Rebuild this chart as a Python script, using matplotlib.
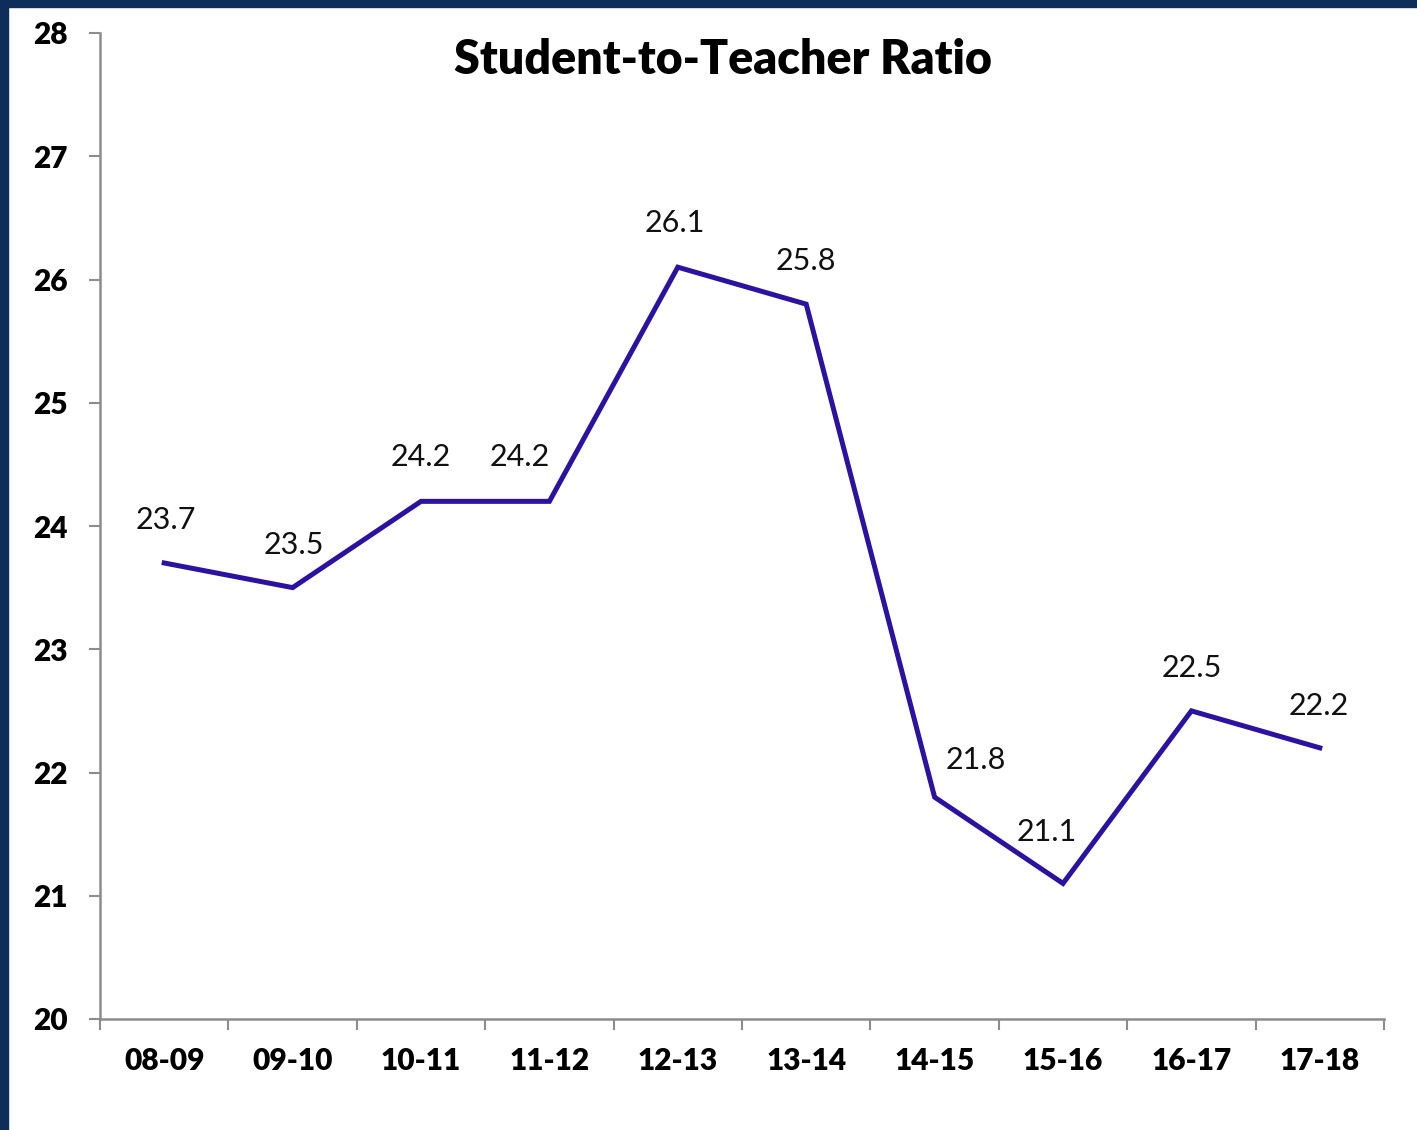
import matplotlib
matplotlib.use("Agg")
import matplotlib.pyplot as plt
from matplotlib.patches import Rectangle

years = ["08-09", "09-10", "10-11", "11-12", "12-13", "13-14", "14-15", "15-16", "16-17", "17-18"]
ratios = [23.7, 23.5, 24.2, 24.2, 26.1, 25.8, 21.8, 21.1, 22.5, 22.2]
y_ticks = [20, 21, 22, 23, 24, 25, 26, 27, 28]
title = "Student-to-Teacher Ratio"

# label offsets in points (dx, dy)
label_offsets = [(1, 31), (1, 31), (0, 32), (-21, 32), (-2, 32), (0, 31), (30, 27), (-12, 37), (0, 31), (-1, 30)]

W, H = 1417, 1130
fig = plt.figure(figsize=(W / 100, H / 100), dpi=100)
fig.patch.set_facecolor("white")

navy = "#0f2d5a"
fig.add_artist(Rectangle((0, 0), 8 / W, 1, transform=fig.transFigure, color=navy, zorder=0))
fig.add_artist(Rectangle((0, 1 - 7 / H), 1, 7 / H, transform=fig.transFigure, color=navy, zorder=0))

ax = fig.add_axes([100 / W, 1 - 1019 / H, (1384 - 100) / W, (1019 - 33) / H])
x = list(range(len(years)))
ax.plot(x, ratios, color="#2b12a0", lw=3.6, solid_joinstyle="miter")
ax.set_xlim(-0.5, len(years) - 0.5)
ax.set_ylim(20, 28)
ax.set_yticks(y_ticks)
ax.set_yticklabels([str(v) for v in y_ticks], fontfamily="Lato", fontweight="heavy", fontsize=21.5)

ax.set_xticks(x)
ax.set_xticklabels(years, fontfamily="Lato", fontweight="heavy", fontsize=21.5)
ax.set_xticks([i - 0.5 for i in range(len(years) + 1)], minor=True)
ax.tick_params(axis="x", which="major", length=0, pad=20)
ax.tick_params(axis="x", which="minor", length=8, width=1.5, color="#8c8c8c")
ax.tick_params(axis="y", length=8, width=1.5, color="#8c8c8c", pad=15)

for s in ["top", "right"]:
    ax.spines[s].set_visible(False)
for s in ["left", "bottom"]:
    ax.spines[s].set_color("#8c8c8c")
    ax.spines[s].set_linewidth(1.8)

for xi, v, (dx, dy) in zip(x, ratios, label_offsets):
    ax.annotate(f"{v:.1f}", (xi, v), xytext=(dx, dy), textcoords="offset points",
                ha="center", va="center", fontfamily="Lato", fontsize=22, color="#111111")

fig.text(723 / W, 1 - 60 / H, title, ha="center", va="center",
         fontfamily="Lato", fontweight="heavy", fontsize=33.5)

fig.savefig("out.png", dpi=100, facecolor="white")
